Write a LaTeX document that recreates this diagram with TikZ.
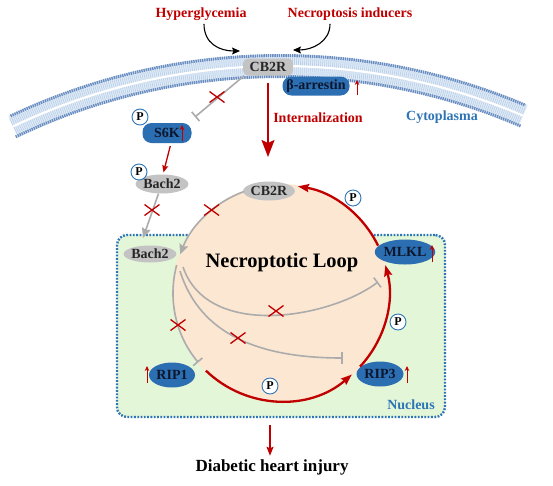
\documentclass[tikz,border=0pt]{standalone}
\usepackage{fontspec}
\setmainfont{Liberation Serif}
\usetikzlibrary{arrows.meta,shapes.geometric,calc}
\definecolor{cred}{RGB}{192,0,0}
\definecolor{cblue}{RGB}{46,117,182}
\definecolor{nblue}{RGB}{44,110,178}
\definecolor{ntext}{RGB}{12,22,45}
\definecolor{cgray}{RGB}{195,195,195}
\definecolor{lgray}{RGB}{172,172,172}
\definecolor{peach}{RGB}{252,231,210}
\definecolor{ngreen}{RGB}{227,246,215}
\definecolor{memfill}{RGB}{226,236,247}
\definecolor{memstripe}{RGB}{186,208,233}
\definecolor{memdark}{RGB}{104,140,192}
\tikzset{
  crossmark/.pic={\draw[cred,line width=1.3pt] (-7.5,-5.5)--(7.5,5.5) (-7.5,5.5)--(7.5,-5.5);}
}
\begin{document}
\begin{tikzpicture}[x=1pt,y=-1pt,
  lab/.style={font=\bfseries\fontsize{14}{16}\selectfont},
  redtxt/.style={lab, text=cred},
  bluetxt/.style={lab, text=cblue},
  graybox/.style={lab, rectangle, rounded corners=5pt, fill=cgray, inner sep=0pt, text=black!85},
  bluebox/.style={lab, rectangle, rounded corners=9pt, fill=nblue, inner sep=0pt, text=ntext},
  grayel/.style={lab, ellipse, fill=cgray, inner sep=0pt, text=black!85},
  blueel/.style={lab, ellipse, fill=nblue, inner sep=0pt, text=ntext},
  pc/.style={circle, draw=cblue, line width=0.9pt, fill=white, minimum size=16pt, inner sep=0pt, font=\bfseries\fontsize{12}{12}\selectfont},
  upar/.style={cred, line width=1pt, -{Stealth[length=5pt,width=4.5pt]}},
  redar/.style={cred, line width=1.6pt, -{Stealth[length=9pt,width=7pt,inset=1.5pt]}},
  redloop/.style={cred, line width=2.3pt, -{Stealth[length=11pt,width=8pt,inset=1.5pt]}},
  grayar/.style={lgray, line width=1.6pt, -{Stealth[length=10pt,width=9pt,inset=1.5pt]}},
  inhib/.style={lgray, line width=1.6pt, -{Bar[width=12pt,line width=1.6pt]}},
  blkar/.style={black, line width=1.1pt, -{Stealth[length=8pt,width=7pt,inset=1.5pt]}}
]
\useasboundingbox (0,0) rectangle (553,485);
\fill[white] (0,0) rectangle (553,485);

% ---------- membrane ----------
\coordinate (mc) at (280,686);
\draw[line width=23pt, memfill] (mc) ++(244.5:620) arc[start angle=244.5, end angle=293.1, radius=620];
\draw[line width=17pt, memstripe, dash pattern=on 0.7pt off 1.3pt] (mc) ++(244.5:620) arc[start angle=244.5, end angle=293.1, radius=620];
\draw[line width=2.2pt, white] (mc) ++(244.5:620) arc[start angle=244.5, end angle=293.1, radius=620];
\draw[line width=3pt, memdark, dash pattern=on 1.4pt off 0.8pt] (mc) ++(244.7:630.5) arc[start angle=244.7, end angle=292.9, radius=630.5];
\draw[line width=3pt, memdark, dash pattern=on 1.4pt off 0.8pt] (mc) ++(244.3:609.5) arc[start angle=244.3, end angle=293.3, radius=609.5];

% ---------- nucleus and loop ----------
\node[draw=cblue, line width=2.4pt, dash pattern=on 1.8pt off 1.5pt, fill=ngreen, rounded corners=10pt,
      minimum width=328pt, minimum height=182pt, inner sep=0pt] (nucleus) at (281,326) {};
\node[circle, fill=peach, minimum size=218pt, inner sep=0pt] (loop) at (281,293) {};
\coordinate (lc) at (281,293);

% ---------- texts ----------
\node[redtxt] (hyper) at (201,14) {Hyperglycemia};
\node[redtxt] (induc) at (350,14) {Necroptosis inducers};
\node[redtxt] (intern) at (318,118) {Internalization};
\node[bluetxt] (cyto) at (442,117) {Cytoplasma};
\node[bluetxt] (nuctxt) at (411,405) {Nucleus};
\node[font=\bfseries\fontsize{20.5}{24}\selectfont] (looptxt) at (282,263) {Necroptotic Loop};
\node[font=\bfseries\fontsize{17}{20}\selectfont] (injury) at (272,467) {Diabetic heart injury};

% ---------- top nodes ----------
\node[graybox, minimum width=50pt, minimum height=17pt] (cbtop) at (268,67) {CB2R};
\node[bluebox, minimum width=67pt, minimum height=19pt] (barr) at (316,86) {β-arrestin};
\node[bluebox, minimum width=49pt, minimum height=20pt, text depth=0pt] (s6k) at (167,133) {S6K\hspace{7pt}};
\node[pc] (ps6k) at (140,117) {P};
\node[grayel, minimum width=52pt, minimum height=19pt] (bachtop) at (162,184) {Bach2};
\node[pc] (pbach) at (139,172) {P};

% ---------- loop nodes ----------
\node[grayel, minimum width=46pt, minimum height=19pt] (cbloop) at (269,191) {CB2R};
\node[blueel, minimum width=47pt, minimum height=25pt] (mlkl) at (405,252) {MLKL};
\node[blueel, minimum width=47pt, minimum height=25pt] (rip3) at (380,374) {RIP3};
\node[blueel, minimum width=46pt, minimum height=25pt] (rip1) at (172,375) {RIP1};
\node[grayel, minimum width=46pt, minimum height=17pt] (bachnuc) at (150,254) {Bach2};
\node[pc] (p1) at (353,198) {P};
\node[pc] (p2) at (398,322) {P};
\node[pc] (p3) at (270,386) {P};

% ---------- up arrows ----------
\draw[upar] (357,95) -- (357,80);
\draw[upar] (182,141) -- (182,125);
\draw[upar] (432,262) -- (432,245);
\draw[upar] (407,383) -- (407,366);
\draw[upar] (147,383) -- (147,366);

% ---------- top connectors ----------
\coordinate (inL) at (240,51);
\coordinate (inR) at (293,50);
\draw[blkar] (hyper.south -| 204,0) .. controls (204,44) and (220,51) .. (inL);
\draw[blkar] (induc.south -| 330,0) .. controls (330,42) and (312,50) .. (inR);
\draw[redar, line width=1.8pt, -{Stealth[length=17pt,width=13pt,inset=3pt]}, shorten <=7pt] (cbtop.south) -- (cbtop.south |- 0,157);
\coordinate (barS6K) at (195,117);
\draw[inhib] (cbtop.200) -- (barS6K);
\pic at (217,97) {crossmark};
\draw[redar, line width=1.3pt, -{Stealth[length=7pt,width=6pt,inset=1pt]}, shorten <=3pt, shorten >=2pt] ([xshift=4pt]s6k.south) -- ([xshift=1pt]bachtop.north);
\coordinate (bachin) at (143,238);
\draw[grayar] (bachtop.250) -- (bachin);
\pic at (152,210) {crossmark};

% ---------- loop connectors ----------
\draw[redloop] ($(lc)+(334:108)$) arc[start angle=334, end angle=279, radius=108];
\draw[redloop] ($(lc)+(43:108)$) arc[start angle=43, end angle=-15, radius=108];
\draw[redloop] ($(lc)+(134:108)$) arc[start angle=134, end angle=49, radius=108];
\draw[grayar] ($(lc)+(250:108)$) arc[start angle=250, end angle=201, radius=108];
\pic at (211.6,210) {crossmark};
\draw[inhib] ($(lc)+(195:108)$) arc[start angle=195, end angle=140, radius=108];
\pic at (178,325) {crossmark};
\coordinate (srcA) at (183,267);
\coordinate (srcB) at (180,271);
\coordinate (barM) at (378,282);
\coordinate (barR) at (343,358);
\draw[inhib] (srcA) .. controls (208,340) and (330,318) .. (barM);
\pic at (276,311) {crossmark};
\draw[inhib] (srcB) .. controls (200,335) and (260,358) .. (barR);
\pic at (238,338) {crossmark};

% ---------- output ----------
\coordinate (outS) at (270,425);
\draw[redar, line width=1.3pt, -{Stealth[length=9pt,width=7pt,inset=1.5pt]}] (outS) -- (outS |- injury.north);
\end{tikzpicture}
\end{document}
